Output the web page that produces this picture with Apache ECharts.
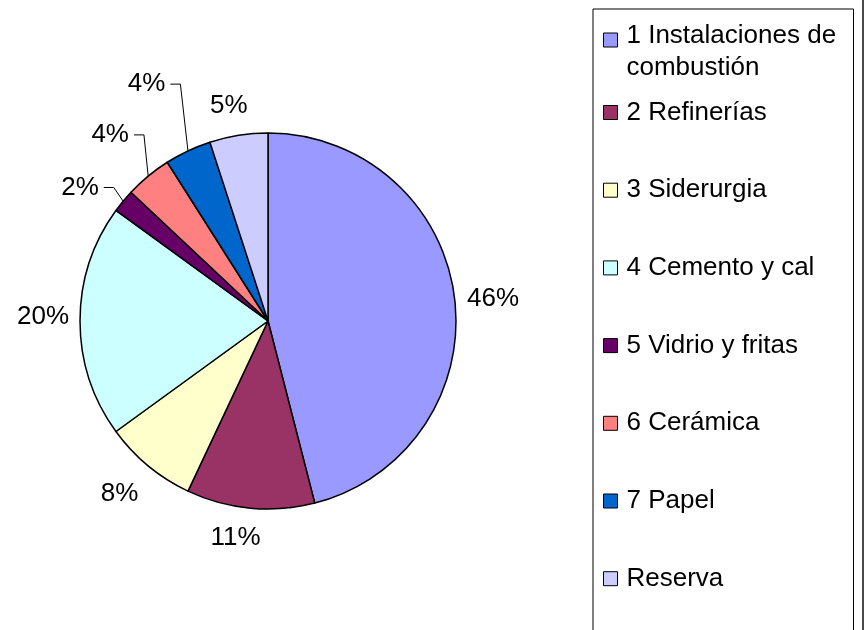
<!DOCTYPE html>
<html>
<head>
<meta charset="utf-8">
<script src="https://cdn.jsdelivr.net/npm/echarts@6/dist/echarts.min.js"></script>
<style>
html, body { margin: 0; padding: 0; background: #fff; }
#main { width: 864px; height: 630px; }
#edge { position: absolute; left: 862px; top: 0; width: 2px; height: 630px; background: #4a4a4a; }
</style>
</head>
<body>
<div id="main"></div>
<div id="edge"></div>
<script>
/**
 * Reparto por sectores (tarta con leyenda a la derecha)
 */
var categories = ['1 Instalaciones de combustión', '2 Refinerías', '3 Siderurgia',
	'4 Cemento y cal', '5 Vidrio y fritas', '6 Cerámica', '7 Papel', 'Reserva'];
var shares = [46, 11, 8, 20, 2, 4, 4, 5];
var colors = ['#9999FF', '#993366', '#FFFFCC', '#CCFFFF', '#660066', '#FF8080', '#0066CC', '#CCCCFF'];
// label placement: distance beyond the rim, sideways shift, and leader lines
var labelPull = [38, 31, 40, 37, 42, 56, 78, 31];
var labelShift = [6, 12, 4, 4, -17, -3, -9, -5];
var hasLeader = [false, false, false, false, true, true, true, false];

var myChart = echarts.init(document.getElementById('main'));

var pieData = categories.map(function (name, i) {
	return {
		name: name,
		value: shares[i],
		itemStyle: { color: colors[i] },
		labelLine: { lineStyle: { opacity: hasLeader[i] ? 1 : 0 } }
	};
});

var option = {
	animation: false,
	legend: {
		orient: 'vertical',
		left: 593,
		top: 9,
		height: 720,
		padding: [-1, 5, 24, 10],
		borderColor: '#000',
		borderWidth: 1,
		itemGap: -14.7,
		itemWidth: 14,
		itemHeight: 14,
		icon: 'rect',
		itemStyle: { borderColor: '#000', borderWidth: 1 },
		formatter: function (name) {
			// first entry wraps onto two lines, its marker sits on the first line
			if (name !== categories[0]) return name;
			var cut = name.lastIndexOf(' ');
			return '{a|' + name.slice(0, cut) + '}\n{b|' + name.slice(cut + 1) + '}';
		},
		textStyle: {
			fontFamily: 'Liberation Sans, Arial, sans-serif',
			fontSize: 26,
			color: '#000',
			lineHeight: 92.4,
			width: 222,
			overflow: 'break',
			padding: [0, 0, 0, 4],
			rich: {
				a: { fontFamily: 'Liberation Sans, Arial, sans-serif', fontSize: 26, color: '#000', lineHeight: 56 },
				b: { fontFamily: 'Liberation Sans, Arial, sans-serif', fontSize: 26, color: '#000', lineHeight: 8 }
			}
		},
		data: categories
	},
	series: [{
		name: 'Sectores',
		type: 'pie',
		center: ['31.02%', '50.95%'],
		radius: 188,
		startAngle: 90,
		clockwise: true,
		avoidLabelOverlap: false,
		silent: true,
		itemStyle: { borderColor: '#000', borderWidth: 1.5 },
		label: {
			show: true,
			position: 'outside',
			formatter: '{c}%',
			fontFamily: 'Liberation Sans, Arial, sans-serif',
			fontSize: 26,
			color: '#000',
			bleedMargin: 0
		},
		labelLine: {
			show: true,
			length: 2,
			length2: 0,
			lineStyle: { color: '#000', width: 1 }
		},
		labelLayout: function (p) {
			var pts = p.labelLinePoints;
			if (!pts) return {};
			var x1 = pts[0][0], y1 = pts[0][1];
			var ddx = pts[1][0] - x1, ddy = pts[1][1] - y1;
			var len = Math.sqrt(ddx * ddx + ddy * ddy) || 1;
			var ux = ddx / len, uy = ddy / len;
			var pull = labelPull[p.dataIndex];
			var shift = labelShift[p.dataIndex];
			var cx = x1 + ux * pull - uy * shift;
			var cy = y1 + uy * pull + ux * shift;
			var right = cx + p.labelRect.width / 2;
			return {
				x: cx,
				y: cy,
				align: 'center',
				verticalAlign: 'middle',
				labelLinePoints: [[x1, y1], [right + 15, cy], [right + 5, cy]]
			};
		},
		data: pieData
	}]
};
myChart.setOption(option);
</script>
</body>
</html>
